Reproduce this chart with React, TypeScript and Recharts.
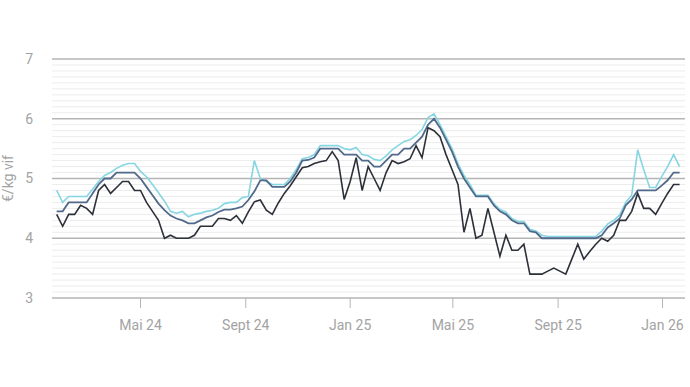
import { LineChart, Line, XAxis, YAxis, CartesianGrid, ReferenceLine, Label } from 'recharts';

// weekly quotes, first week = 24 Jan 2024
const START = Date.UTC(2024, 0, 24);
const WEEK_MS = 7 * 24 * 3600 * 1000;

const tickMonths: [number, number][] = [
  [2024, 4], [2024, 8], [2025, 0], [2025, 4], [2025, 8], [2026, 0],
];
const tickLabels = ['Mai 24', 'Sept 24', 'Jan 25', 'Mai 25', 'Sept 25', 'Jan 26'];
const yTicks = [3, 4, 5, 6, 7];

const prixHaut = [
  4.8, 4.6, 4.7, 4.7, 4.7, 4.7, 4.82, 4.95, 5.05, 5.1,
  5.17, 5.22, 5.25, 5.25, 5.12, 5.03, 4.9, 4.76, 4.62, 4.45,
  4.42, 4.45, 4.36, 4.4, 4.42, 4.45, 4.47, 4.5, 4.58, 4.6,
  4.6, 4.68, 4.7, 5.3, 5.0, 4.95, 4.9, 4.9, 4.9, 5.0,
  5.15, 5.33, 5.35, 5.4, 5.55, 5.55, 5.55, 5.55, 5.5, 5.48,
  5.52, 5.4, 5.38, 5.32, 5.3, 5.38, 5.48, 5.55, 5.62, 5.65,
  5.72, 5.82, 6.02, 6.08, 5.9, 5.7, 5.5, 5.25, 5.05, 4.9,
  4.72, 4.72, 4.72, 4.58, 4.48, 4.44, 4.33, 4.28, 4.28, 4.15,
  4.12, 4.05, 4.03, 4.03, 4.03, 4.03, 4.03, 4.03, 4.03, 4.03,
  4.03, 4.12, 4.24, 4.3, 4.39, 4.6, 4.72, 5.48, 5.15, 4.85,
  4.85, 5.03, 5.2, 5.4, 5.2,
];

const prixMoyen = [
  4.45, 4.45, 4.6, 4.6, 4.6, 4.6, 4.75, 4.9, 5.0, 5.0,
  5.1, 5.1, 5.1, 5.1, 5.0, 4.86, 4.72, 4.58, 4.47, 4.38,
  4.33, 4.3, 4.25, 4.25, 4.3, 4.35, 4.38, 4.44, 4.48, 4.48,
  4.5, 4.53, 4.64, 4.78, 4.97, 4.97, 4.86, 4.86, 4.86, 4.95,
  5.1, 5.3, 5.31, 5.35, 5.5, 5.5, 5.5, 5.5, 5.4, 5.4,
  5.4, 5.3, 5.3, 5.2, 5.2, 5.3, 5.4, 5.4, 5.5, 5.5,
  5.6, 5.7, 5.9, 6.0, 5.85, 5.65, 5.45, 5.2, 5.0, 4.85,
  4.7, 4.7, 4.7, 4.55, 4.45, 4.4, 4.3, 4.25, 4.25, 4.12,
  4.1, 4.0, 4.0, 4.0, 4.0, 4.0, 4.0, 4.0, 4.0, 4.0,
  4.0, 4.05, 4.18, 4.25, 4.33, 4.55, 4.65, 4.8, 4.8, 4.8,
  4.8, 4.88, 4.97, 5.1, 5.1,
];

const prixBas = [
  4.4, 4.2, 4.4, 4.4, 4.55, 4.5, 4.4, 4.8, 4.9, 4.75,
  4.85, 4.95, 4.95, 4.8, 4.8, 4.6, 4.45, 4.3, 4.0, 4.05,
  4.0, 4.0, 4.0, 4.05, 4.2, 4.2, 4.2, 4.33, 4.33, 4.3,
  4.38, 4.25, 4.44, 4.61, 4.64, 4.47, 4.4, 4.59, 4.75, 4.88,
  5.03, 5.18, 5.2, 5.25, 5.28, 5.3, 5.45, 5.3, 4.65, 4.95,
  5.35, 4.8, 5.2, 5.0, 4.8, 5.1, 5.3, 5.25, 5.28, 5.33,
  5.55, 5.35, 5.85, 5.8, 5.7, 5.4, 5.15, 4.9, 4.1, 4.5,
  4.0, 4.05, 4.5, 4.1, 3.7, 4.05, 3.8, 3.8, 3.9, 3.4,
  3.4, 3.4, 3.45, 3.5, 3.45, 3.4, 3.65, 3.9, 3.65, 3.78,
  3.9, 4.0, 3.95, 4.05, 4.3, 4.3, 4.45, 4.75, 4.5, 4.5,
  4.4, 4.58, 4.75, 4.9, 4.9,
];

const data = prixMoyen.map((_, i) => ({
  week: i,
  haut: prixHaut[i],
  moyen: prixMoyen[i],
  bas: prixBas[i],
}));

const xTicks = tickMonths.map(([y, m]) => (Date.UTC(y, m, 1) - START) / WEEK_MS);
const minorLines: number[] = [];
for (let k = 31; k < 70; k++) if (k % 10 !== 0) minorLines.push(k / 10);

const FONT = 'Roboto, sans-serif';
const TXT = '#a3a3a3';

export default function App() {
  return (
    <div style={{ position: 'absolute', left: 0, top: 0, background: '#fff' }}>
      <LineChart width={690} height={387} data={data} margin={{ top: 59, right: 5, bottom: 59, left: 0 }}>
        {minorLines.map((v) => (
          <ReferenceLine key={v} y={v} stroke="#ececec" strokeWidth={1} />
        ))}
        <CartesianGrid vertical={false} stroke="#b5b5b5" strokeWidth={1.5} />
        <XAxis
          dataKey="week"
          type="number"
          domain={[-0.78, 104.9]}
          ticks={xTicks}
          tickFormatter={(_, idx) => tickLabels[idx]}
          axisLine={false}
          tickLine={{ stroke: '#b5b5b5' }}
          tickSize={10}
          tickMargin={12}
          height={30}
          tick={{ fontSize: 14, fill: TXT, fontFamily: FONT }}
        />
        <YAxis
          domain={[3, 7]}
          ticks={yTicks}
          width={52}
          axisLine={false}
          tickLine={false}
          tickSize={0}
          tickMargin={19}
          tick={{ fontSize: 14, fill: TXT, fontFamily: FONT }}
        >
          <Label
            content={({ viewBox }: any) => {
              const cy = viewBox.y + viewBox.height / 2;
              return (
                <text
                  x={13}
                  y={cy}
                  transform={`rotate(-90 13 ${cy})`}
                  textAnchor="middle"
                  fontSize={14}
                  fill={TXT}
                  fontFamily={FONT}
                >
                  €/kg vif
                </text>
              );
            }}
          />
        </YAxis>
        <Line type="linear" dataKey="haut" stroke="#86d6e2" strokeWidth={1.6} dot={false} isAnimationActive={false} />
        <Line type="linear" dataKey="moyen" stroke="#51698a" strokeWidth={1.8} dot={false} isAnimationActive={false} />
        <Line type="linear" dataKey="bas" stroke="#2c3038" strokeWidth={1.6} dot={false} isAnimationActive={false} />
      </LineChart>
    </div>
  );
}
